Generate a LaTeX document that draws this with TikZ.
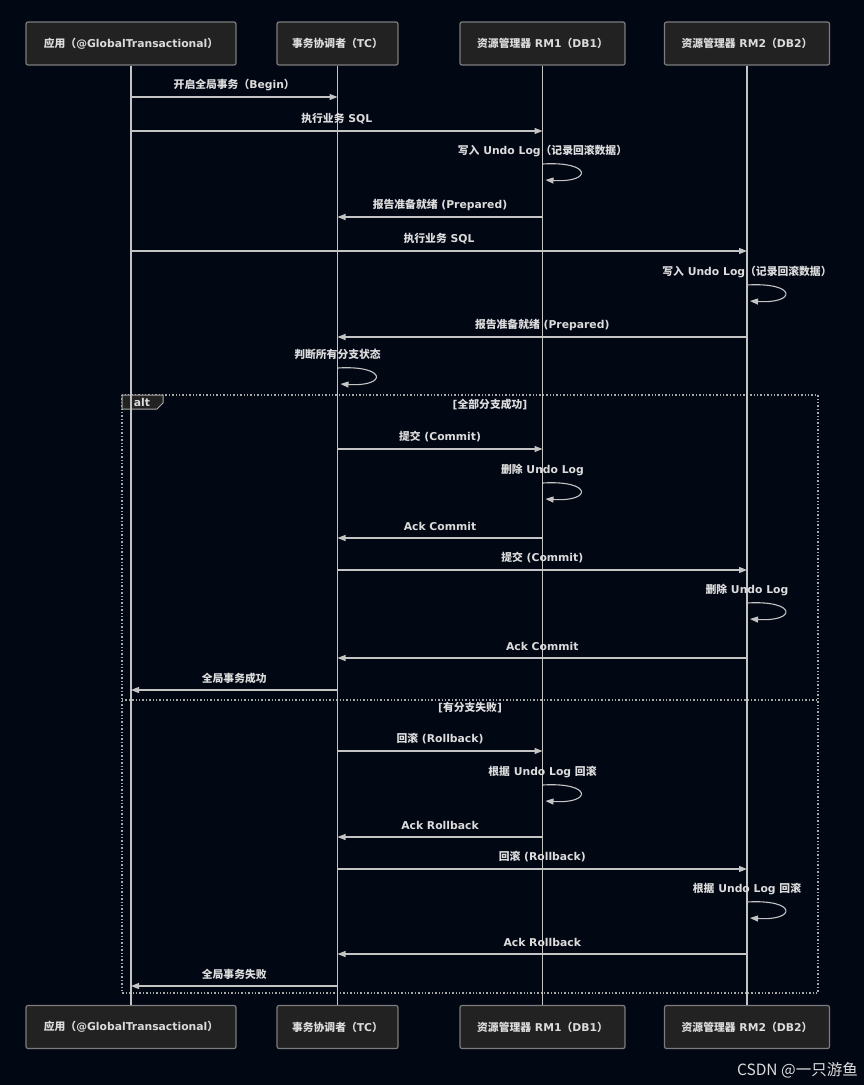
\documentclass[tikz,border=0pt]{standalone}
\usepackage{fontspec}
\setmainfont{DejaVu Sans}
\newfontfamily\cjk{Noto Sans CJK SC}
\usetikzlibrary{arrows.meta}
\definecolor{bgc}{HTML}{020714}
\definecolor{boxfill}{HTML}{222222}
\definecolor{boxline}{HTML}{7C7C7C}
\definecolor{lineclr}{HTML}{C4C4C4}
\definecolor{txt}{HTML}{DCDCDC}
\definecolor{framec}{HTML}{A8A8A8}
\newcommand\zh[1]{{\cjk #1}}
\tikzset{
  actorbox/.style={draw=boxline, fill=boxfill, line width=1.2pt, rounded corners=2pt,
    minimum height=43pt, text=txt, font=\bfseries\fontsize{10.8}{12}\selectfont},
  life/.style={draw=lineclr, line width=1.3pt},
  msgline/.style={draw=lineclr, line width=1.1pt, -{Triangle[length=8pt,width=6pt]}},
  lbl/.style={text=txt, font=\bfseries\fontsize{10.8}{12}\selectfont, inner sep=1pt},
  altframe/.style={draw=framec, line width=1.4pt, dotted},
}
\newcommand\msg[4]{%
  \draw[msgline] (#1 |- 0,#3) -- (#2 |- 0,#3) node[lbl, midway, yshift=12pt] {#4};}
\newcommand\selfmsg[3]{%
  \node[lbl] at (#1 |- 0,#2-13.5) {#3};
  \coordinate (s) at (#1 |- 0,#2);
  \draw[msgline] (s) .. controls +(50,-3) and +(47,3) .. ([xshift=3pt,yshift=-16pt]s);}
\begin{document}
\begin{tikzpicture}[x=1pt, y=-1pt]
\fill[bgc] (0,0) rectangle (864,1085);
\useasboundingbox (0,0) rectangle (864,1085);

% alt frame
\draw[altframe] (122,395) rectangle (818,993);
\draw[altframe] (122,700) -- (818,700);
\draw[draw=framec, fill=boxfill, line width=1pt] (122,395) -- (163,395) -- (163,403) -- (157,409) -- (122,409) -- cycle;
\node[lbl] (altlbl) at (142,402) {alt};
\node[lbl] (cond1) at (490,404) {[\zh{全部分支成功}]};
\node[lbl] (cond2) at (470,708) {[\zh{有分支失败}]};

% actors
\node[actorbox, minimum width=210pt] (a) at (131,43.5) {\zh{应用（}@GlobalTransactional\zh{）}};
\node[actorbox, minimum width=121pt] (t) at (337.5,43.5) {\zh{事务协调者（}TC\zh{）}};
\node[actorbox, minimum width=165pt] (r1) at (542.5,43.5) {\zh{资源管理器} RM1\zh{（}DB1\zh{）}};
\node[actorbox, minimum width=165pt] (r2) at (747,43.5) {\zh{资源管理器} RM2\zh{（}DB2\zh{）}};
\node[actorbox, minimum width=210pt] (ab) at (131,1027) {\zh{应用（}@GlobalTransactional\zh{）}};
\node[actorbox, minimum width=121pt] (tb) at (337.5,1027) {\zh{事务协调者（}TC\zh{）}};
\node[actorbox, minimum width=165pt] (r1b) at (542.5,1027) {\zh{资源管理器} RM1\zh{（}DB1\zh{）}};
\node[actorbox, minimum width=165pt] (r2b) at (747,1027) {\zh{资源管理器} RM2\zh{（}DB2\zh{）}};

% lifelines
\draw[life] (a.south) -- (ab.north);
\draw[life] (t.south) -- (tb.north);
\draw[life] (r1.south) -- (r1b.north);
\draw[life] (r2.south) -- (r2b.north);

% messages
\msg{a}{t}{97}{\zh{开启全局事务（}Begin\zh{）}}
\msg{a}{r1}{131}{\zh{执行业务} SQL}
\selfmsg{r1}{164}{\zh{写入} Undo Log\zh{（记录回滚数据）}}
\msg{r1}{t}{217}{\zh{报告准备就绪} (Prepared)}
\msg{a}{r2}{251}{\zh{执行业务} SQL}
\selfmsg{r2}{285}{\zh{写入} Undo Log\zh{（记录回滚数据）}}
\msg{r2}{t}{337}{\zh{报告准备就绪} (Prepared)}
\selfmsg{t}{368}{\zh{判断所有分支状态}}

\msg{t}{r1}{449}{\zh{提交} (Commit)}
\selfmsg{r1}{483}{\zh{删除} Undo Log}
\msg{r1}{t}{538}{Ack Commit}
\msg{t}{r2}{570}{\zh{提交} (Commit)}
\selfmsg{r2}{603}{\zh{删除} Undo Log}
\msg{r2}{t}{658}{Ack Commit}
\msg{t}{a}{690}{\zh{全局事务成功}}

\msg{t}{r1}{751}{\zh{回滚} (Rollback)}
\selfmsg{r1}{785}{\zh{根据} Undo Log \zh{回滚}}
\msg{r1}{t}{837}{Ack Rollback}
\msg{t}{r2}{869}{\zh{回滚} (Rollback)}
\selfmsg{r2}{902}{\zh{根据} Undo Log \zh{回滚}}
\msg{r2}{t}{954}{Ack Rollback}
\msg{t}{a}{986}{\zh{全局事务失败}}

% watermark
\node[anchor=east, text=txt, inner sep=0pt, font=\fontsize{15.5}{17}\selectfont] (wm) at (858,1070) {\cjk CSDN @一只游鱼};
\end{tikzpicture}
\end{document}
